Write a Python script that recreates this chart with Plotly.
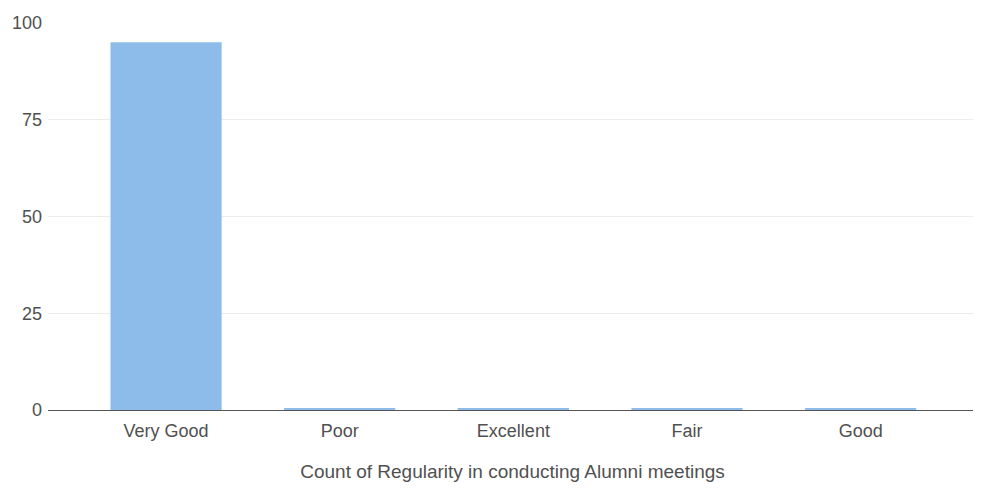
import plotly.graph_objects as go

categories = ["Very Good", "Poor", "Excellent", "Fair", "Good"]
counts = [95, 0.5, 0.5, 0.5, 0.5]
y_ticks = [0, 25, 50, 75, 100]
x_title = "Count of Regularity in conducting Alumni meetings"

fig = go.Figure(
    go.Bar(
        x=categories,
        y=counts,
        width=0.64,
        marker=dict(color="#8dbbea", line=dict(width=0)),
    )
)

font_family = "Liberation Sans, Arial, sans-serif"
text_color = "#505050"

# page body has an 8px margin, so the figure is 8px smaller than the window
fig.update_layout(
    width=973,
    height=494,
    margin=dict(l=40, r=4, t=15, b=92),
    paper_bgcolor="white",
    plot_bgcolor="white",
    showlegend=False,
    font=dict(family=font_family, size=18, color=text_color),
)

fig.update_xaxes(
    type="category",
    range=[-0.68, 4.67],
    showgrid=False,
    showline=False,
    ticks="",
    ticklabelstandoff=8,
    tickfont=dict(size=18, color=text_color),
    title=dict(text=x_title, font=dict(size=19, color=text_color), standoff=24),
    fixedrange=True,
)

fig.update_yaxes(
    range=[0, 100],
    tickvals=y_ticks,
    showgrid=True,
    gridcolor="#ececec",
    gridwidth=1,
    zeroline=True,
    zerolinecolor="#555555",
    zerolinewidth=1,
    showline=False,
    ticks="",
    ticklabelstandoff=5,
    tickfont=dict(size=18, color=text_color),
    fixedrange=True,
)

fig.write_html("out.html")
